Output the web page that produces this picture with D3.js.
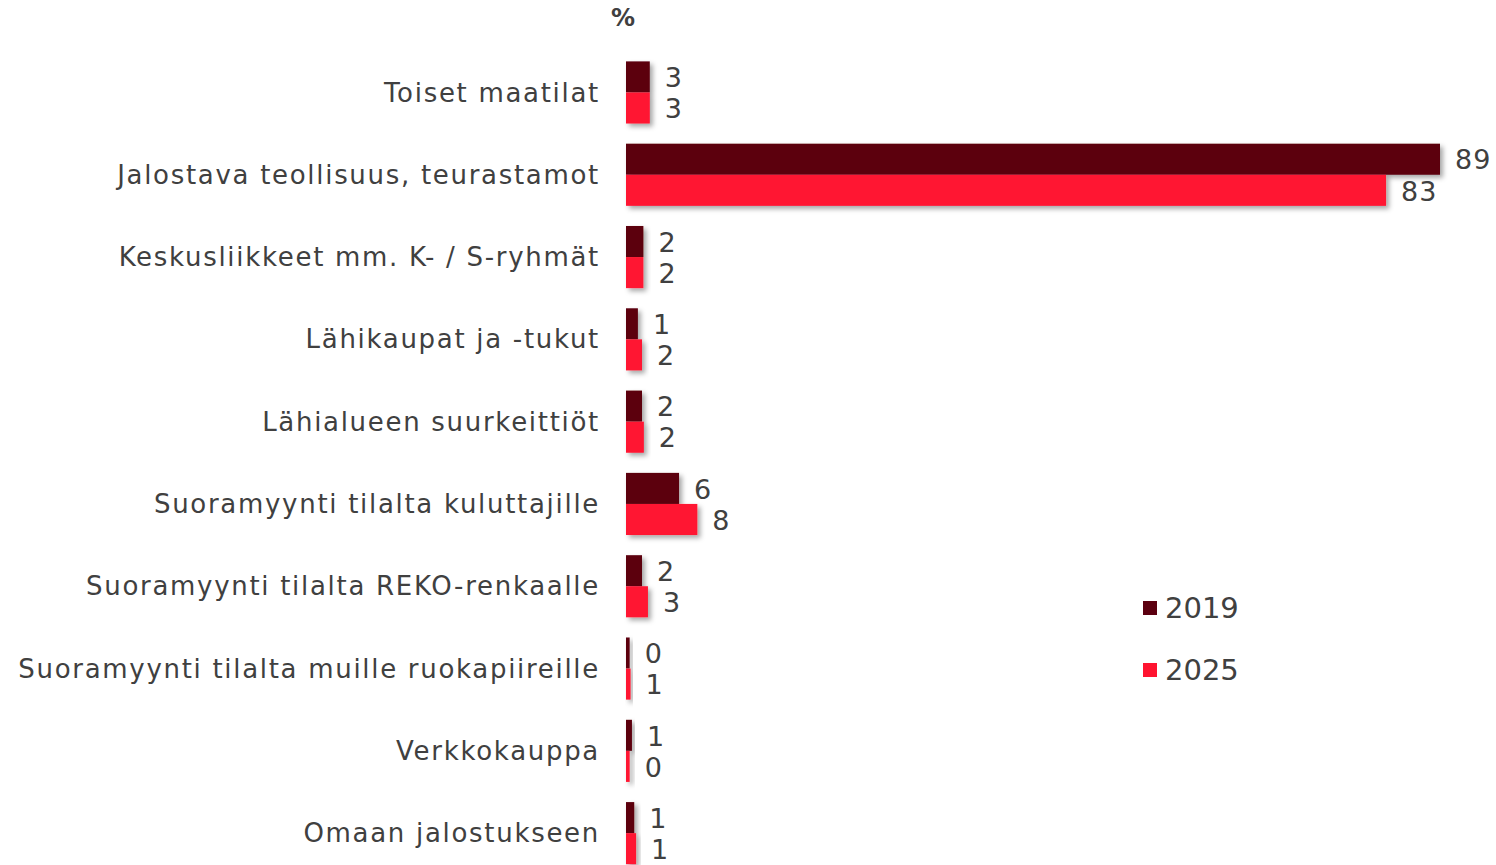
<!DOCTYPE html>
<html>
<head>
<meta charset="utf-8">
<script src="https://cdn.jsdelivr.net/npm/d3@7"></script>
<style>
  body { margin: 0; background: #fff; }
  svg { display: block; font-family: "DejaVu Sans", Verdana, sans-serif; }
</style>
</head>
<body>
<svg id="chart" width="1496" height="865"></svg>
<script>
// categories, top to bottom
var categories = [
  "Toiset maatilat",
  "Jalostava teollisuus, teurastamot",
  "Keskusliikkeet mm. K- / S-ryhmät",
  "Lähikaupat ja -tukut",
  "Lähialueen suurkeittiöt",
  "Suoramyynti tilalta kuluttajille",
  "Suoramyynti tilalta REKO-renkaalle",
  "Suoramyynti tilalta muille ruokapiireille",
  "Verkkokauppa",
  "Omaan jalostukseen"
];
var years = ["2019", "2025"];
// bar lengths (labels are the rounded values)
var values2019 = [2.6, 89, 1.9, 1.3, 1.75, 5.8, 1.75, 0.4, 0.65, 0.9];
var values2025 = [2.6, 83.1, 1.9, 1.75, 1.95, 7.8, 2.4, 0.5, 0.4, 1.1];
var labels2019 = [3, 89, 2, 1, 2, 6, 2, 0, 1, 1];
var labels2025 = [3, 83, 2, 2, 2, 8, 3, 1, 0, 1];
var colors = ["#5c0010", "#ff1430"];

var rows = categories.map(function(c, i) {
  return { cat: c, vals: [
    { key: years[0], v: values2019[i], lab: labels2019[i] },
    { key: years[1], v: values2025[i], lab: labels2025[i] }
  ]};
});

var svg = d3.select("#chart");

var x = d3.scaleLinear().domain([0, 89]).range([626, 1440]);
var y = d3.scaleBand().domain(categories).range([51.3, 874.3]).paddingInner(0.245).paddingOuter(0.1225);
var y1 = d3.scaleBand().domain(years).range([0, y.bandwidth()]);
var color = d3.scaleOrdinal().domain(years).range(colors);

var defs = svg.append("defs");
var f = defs.append("filter").attr("id", "shadow")
  .attr("x", "-20%").attr("y", "-20%").attr("width", "160%").attr("height", "160%");
f.append("feDropShadow").attr("dx", 3).attr("dy", 3).attr("stdDeviation", 2.5)
  .attr("flood-color", "#000").attr("flood-opacity", 0.35);

// % unit
svg.append("text").attr("x", 611).attr("y", 26)
  .attr("font-size", 24).attr("font-weight", "bold").attr("fill", "#404040")
  .text("%");

// category labels
svg.append("g").selectAll("text")
  .data(categories)
  .enter().append("text")
  .attr("x", 600)
  .attr("y", function(d) { return y(d) + y.bandwidth() / 2; })
  .attr("dy", "0.35em")
  .attr("text-anchor", "end")
  .attr("font-size", 26)
  .attr("letter-spacing", "1.7px")
  .attr("fill", "#404040")
  .text(function(d) { return d; });

var group = svg.append("g").selectAll("g")
  .data(rows)
  .enter().append("g")
  .attr("transform", function(d) { return "translate(0," + y(d.cat) + ")"; });

// shadow behind each group of bars
group.append("g").attr("filter", "url(#shadow)")
  .selectAll("rect")
  .data(function(d) { return d.vals; })
  .enter().append("rect")
  .attr("x", x(0))
  .attr("y", function(d) { return y1(d.key); })
  .attr("width", function(d) { return x(d.v) - x(0); })
  .attr("height", y1.bandwidth())
  .attr("fill", function(d) { return color(d.key); });

group.selectAll("text.val")
  .data(function(d) { return d.vals; })
  .enter().append("text")
  .attr("class", "val")
  .attr("x", function(d) { return x(d.v) + 15; })
  .attr("y", function(d) { return y1(d.key) + y1.bandwidth() / 2; })
  .attr("dy", "0.38em")
  .attr("font-size", 27)
  .attr("letter-spacing", "1px")
  .attr("fill", "#404040")
  .text(function(d) { return d.lab; });

// legend
var legend = svg.append("g").selectAll("g")
  .data(years)
  .enter().append("g")
  .attr("transform", function(d, i) { return "translate(1143," + (608 + i * 62) + ")"; });

legend.append("rect")
  .attr("x", 0).attr("y", -7).attr("width", 14).attr("height", 14)
  .attr("fill", function(d) { return color(d); });

legend.append("text")
  .attr("x", 22).attr("y", 0).attr("dy", "0.36em")
  .attr("font-size", 29).attr("fill", "#404040")
  .text(function(d) { return d; });
</script>
</body>
</html>
